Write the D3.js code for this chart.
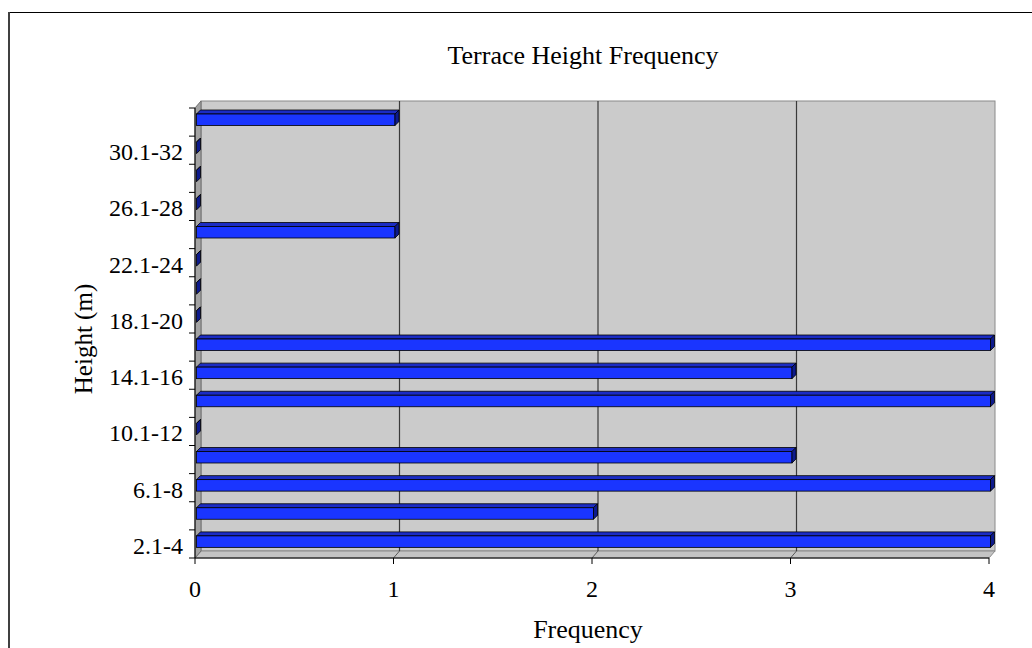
<!DOCTYPE html>
<html>
<head>
<meta charset="utf-8">
<script src="https://cdn.jsdelivr.net/npm/d3@7"></script>
<style>
  html, body { margin: 0; padding: 0; background: #fff; }
  svg { display: block; }
  text { font-family: "Liberation Serif", "Times New Roman", serif; fill: #000; }
</style>
</head>
<body>
<svg id="chart" width="1032" height="648"></svg>
<script>
// Height classes (m), bottom to top
const categories = [
  "2.1-4", "4.1-6", "6.1-8", "8.1-10", "10.1-12", "12.1-14", "14.1-16", "16.1-18",
  "18.1-20", "20.1-22", "22.1-24", "24.1-26", "26.1-28", "28.1-30", "30.1-32", "32.1-34"
];
// Number of terraces in each height class
const frequency = [4, 2, 4, 3, 0, 4, 3, 4, 0, 0, 0, 1, 0, 0, 0, 1];
// Axis tick values and labelled categories
const xTicks = [0, 1, 2, 3, 4];
const yLabels = ["2.1-4", "6.1-8", "10.1-12", "14.1-16", "18.1-20", "22.1-24", "26.1-28", "30.1-32"];

const title = "Terrace Height Frequency";
const xTitle = "Frequency";
const yTitle = "Height (m)";

const svg = d3.select("#chart");

// Front plane of the 3-D plot
const x = d3.scaleLinear().domain([0, 4]).range([195, 989]);
const y = d3.scaleBand().domain(categories).range([558, 108]).padding(0);

// Wall depth offset
const dx = 6, dy = -7;
// Bar depth offset
const bdx = 4, bdy = -4;

// Chart frame
svg.append("line").attr("x1", 9).attr("x2", 1032).attr("y1", 12.5).attr("y2", 12.5)
  .attr("stroke", "#000").attr("stroke-width", 1);
svg.append("line").attr("x1", 9).attr("x2", 9).attr("y1", 12).attr("y2", 648)
  .attr("stroke", "#404040").attr("stroke-width", 2);

const x0 = x(0), x4 = x(4), yTop = y.range()[1], yBot = y.range()[0];

// Back wall
svg.append("rect")
  .attr("x", x0 + dx).attr("y", yTop + dy)
  .attr("width", x4 - x0).attr("height", yBot - yTop)
  .attr("fill", "#cbcbcb").attr("stroke", "#8a8a8a").attr("stroke-width", 1);

// Floor
svg.append("polygon")
  .attr("points", [[x0, yBot], [x4, yBot], [x4 + dx, yBot + dy], [x0 + dx, yBot + dy]].join(" "))
  .attr("fill", "#c4c4c4").attr("stroke", "#8a8a8a").attr("stroke-width", 1);

// Side wall
svg.append("polygon")
  .attr("points", [[x0, yBot], [x0, yTop], [x0 + dx, yTop + dy], [x0 + dx, yBot + dy]].join(" "))
  .attr("fill", "#a3a3a3").attr("stroke", "#6e6e6e").attr("stroke-width", 1);

// Gridlines on wall and floor
const grid = svg.append("g");
xTicks.filter(t => t > 0 && t < 4).forEach(t => {
  grid.append("line")
    .attr("x1", x(t) + dx).attr("x2", x(t) + dx)
    .attr("y1", yTop + dy).attr("y2", yBot + dy)
    .attr("stroke", "#3a3a3a").attr("stroke-width", 1.2);
  grid.append("line")
    .attr("x1", x(t) + dx).attr("x2", x(t))
    .attr("y1", yBot + dy).attr("y2", yBot)
    .attr("stroke", "#5a5a5a").attr("stroke-width", 1);
});

// Bars as 3-D boxes
const bars = svg.append("g");
categories.forEach((c, i) => {
  const v = frequency[i];
  const b0 = x(0) + 1.5, b1 = x(v) + 1.5;
  const t = y(c) + 6, h = 11.5;
  // top face
  bars.append("polygon")
    .attr("points", [[b0, t], [b0 + bdx, t + bdy], [b1 + bdx, t + bdy], [b1, t]].join(" "))
    .attr("fill", "#1b2cc4").attr("stroke", "#000").attr("stroke-width", 0.8)
    .attr("stroke-linejoin", "round");
  // front face
  bars.append("rect")
    .attr("x", b0).attr("y", t).attr("width", b1 - b0).attr("height", h)
    .attr("fill", "#1a35ff").attr("stroke", "#000").attr("stroke-width", 0.8);
  // end face
  bars.append("polygon")
    .attr("points", [[b1, t], [b1 + bdx, t + bdy], [b1 + bdx, t + h + bdy], [b1, t + h]].join(" "))
    .attr("fill", "#0d1a8c").attr("stroke", "#000").attr("stroke-width", 0.8)
    .attr("stroke-linejoin", "round");
});

// X axis
const xAxis = svg.append("g");
xAxis.append("line").attr("x1", x0).attr("x2", x4).attr("y1", yBot).attr("y2", yBot)
  .attr("stroke", "#000").attr("stroke-width", 1);
xTicks.forEach(t => {
  xAxis.append("line").attr("x1", x(t)).attr("x2", x(t)).attr("y1", yBot).attr("y2", yBot + 6)
    .attr("stroke", "#000").attr("stroke-width", 1);
  xAxis.append("text").attr("x", x(t)).attr("y", yBot + 39)
    .attr("text-anchor", "middle").attr("font-size", 24).text(d3.format("d")(t));
});

// Y axis
const yAxis = svg.append("g");
yAxis.append("line").attr("x1", x0).attr("x2", x0).attr("y1", yTop).attr("y2", yBot)
  .attr("stroke", "#000").attr("stroke-width", 1);
const bounds = categories.map(c => y(c)).concat([yBot]);
bounds.forEach(b => {
  yAxis.append("line").attr("x1", x0 - 6).attr("x2", x0).attr("y1", b).attr("y2", b)
    .attr("stroke", "#000").attr("stroke-width", 1);
});
yLabels.forEach(l => {
  yAxis.append("text").attr("x", x0 - 12).attr("y", y(l) + y.bandwidth() / 2 + 10)
    .attr("text-anchor", "end").attr("font-size", 24).text(l);
});

// Titles
svg.append("text").attr("x", 583).attr("y", 64).attr("text-anchor", "middle")
  .attr("font-size", 26).text(title);
svg.append("text").attr("x", 588).attr("y", 638).attr("text-anchor", "middle")
  .attr("font-size", 26).text(xTitle);
svg.append("text").attr("transform", "translate(92,339) rotate(-90)")
  .attr("text-anchor", "middle").attr("font-size", 25).text(yTitle);
</script>
</body>
</html>
